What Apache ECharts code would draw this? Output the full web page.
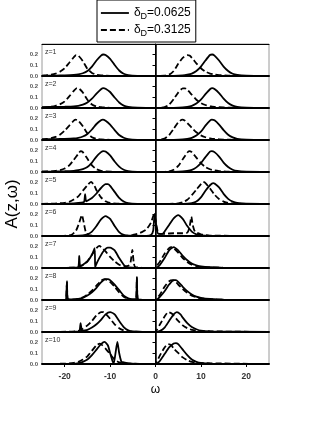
<!DOCTYPE html>
<html><head><meta charset="utf-8">
<script src="https://cdn.jsdelivr.net/npm/echarts@6/dist/echarts.min.js"></script>
<style>html,body{margin:0;padding:0;background:#fff}#c{width:316px;height:427px}</style>
</head><body><div id="c"></div>
<script>
const seriesNames = ['δD=0.0625', 'δD=0.3125'];
const legendLabels = ['{t|δ}{s|D}{t|=0.0625}', '{t|δ}{s|D}{t|=0.3125}'];
const zLabels = ['z=1','z=2','z=3','z=4','z=5','z=6','z=7','z=8','z=9','z=10'];
const xTicks = [-20, -10, 0, 10, 20];
const yTicks = [0.0, 0.1, 0.2];

const solid1 = [[-25,0.002],[-22,0.004],[-20,0.006],[-18,0.01],[-17,0.015],[-16,0.025],[-15,0.045],[-14,0.085],[-13,0.14],[-12,0.185],[-11.5,0.195],[-11,0.19],[-10,0.155],[-9,0.1],[-8,0.05],[-7,0.02],[-6,0.008],[-4,0.002],[0,0],[4,0.002],[6,0.006],[7,0.012],[8,0.022],[9,0.045],[10,0.085],[11,0.14],[12,0.19],[12.5,0.195],[13,0.185],[14,0.14],[15,0.085],[16,0.045],[17,0.02],[18,0.01],[20,0.004],[25,0.001]];
const dashed1 = [[-25,0.004],[-24,0.008],[-23,0.013],[-22,0.022],[-21,0.04],[-20,0.07],[-19,0.12],[-18,0.17],[-17.5,0.19],[-17,0.185],[-16,0.135],[-15,0.065],[-14,0.028],[-13,0.012],[-12,0.006],[-10,0.002],[0,0],[2,0.003],[3,0.012],[4,0.045],[5,0.11],[6,0.165],[7,0.19],[7.5,0.185],[8,0.165],[9,0.115],[10,0.07],[11,0.04],[12,0.022],[13,0.013],[14,0.008],[16,0.004],[20,0.001],[25,0]];
const solid2 = [[-25,0.008],[-22,0.01],[-20,0.012],[-18,0.015],[-17,0.02],[-16,0.03],[-15,0.05],[-14,0.085],[-13,0.13],[-12,0.17],[-11.5,0.18],[-11,0.175],[-10,0.145],[-9,0.095],[-8,0.05],[-7,0.022],[-6,0.01],[-4,0.003],[0,0],[4,0.002],[6,0.005],[7,0.01],[8,0.02],[9,0.04],[10,0.075],[11,0.125],[12,0.17],[12.5,0.18],[13,0.172],[14,0.135],[15,0.085],[16,0.045],[17,0.022],[18,0.01],[20,0.004],[25,0.001]];
const dashed2 = [[-25,0.004],[-24,0.007],[-23,0.012],[-22,0.02],[-21,0.035],[-20,0.06],[-19,0.105],[-18,0.155],[-17.3,0.18],[-16.8,0.175],[-16,0.14],[-15,0.075],[-14,0.032],[-13,0.014],[-12,0.007],[-10,0.002],[0,0],[1,0.002],[2,0.008],[3,0.03],[4,0.08],[5,0.14],[6,0.178],[6.5,0.178],[7,0.165],[8,0.12],[9,0.075],[10,0.045],[11,0.027],[12,0.016],[13,0.01],[15,0.005],[18,0.002],[25,0]];
const solid3 = [[-25,0.006],[-22,0.008],[-20,0.01],[-18,0.014],[-17,0.02],[-16,0.032],[-15,0.055],[-14,0.095],[-13,0.145],[-12,0.18],[-11.6,0.185],[-11,0.175],[-10,0.14],[-9,0.09],[-8,0.045],[-7,0.02],[-6,0.008],[-4,0.002],[0,0],[4,0.002],[6,0.005],[7,0.01],[8,0.02],[9,0.04],[10,0.075],[11,0.13],[12,0.175],[12.4,0.185],[13,0.178],[14,0.14],[15,0.09],[16,0.048],[17,0.024],[18,0.011],[20,0.004],[25,0.001]];
const dashed3 = [[-25,0.005],[-24,0.009],[-23,0.016],[-22,0.028],[-21,0.05],[-20,0.085],[-19,0.13],[-18,0.175],[-17.6,0.185],[-17,0.175],[-16,0.125],[-15,0.06],[-14,0.025],[-13,0.011],[-12,0.005],[-10,0.002],[0,0],[1,0.003],[2,0.012],[3,0.045],[4,0.1],[5,0.16],[5.9,0.185],[6.5,0.175],[7,0.155],[8,0.11],[9,0.07],[10,0.042],[11,0.025],[12,0.015],[13,0.009],[15,0.004],[18,0.001],[25,0]];
const solid4 = [[-25,0.003],[-22,0.005],[-20,0.007],[-18,0.011],[-17,0.016],[-16,0.026],[-15,0.045],[-14,0.085],[-13,0.14],[-12,0.18],[-11.5,0.19],[-11,0.185],[-10,0.15],[-9,0.095],[-8,0.048],[-7,0.02],[-6,0.008],[-4,0.002],[0,0],[4,0.002],[6,0.005],[7,0.01],[8,0.02],[9,0.042],[10,0.08],[11,0.135],[12,0.185],[12.4,0.19],[13,0.18],[14,0.14],[15,0.085],[16,0.045],[17,0.02],[18,0.009],[20,0.003],[25,0.001]];
const dashed4 = [[-25,0.003],[-23,0.006],[-22,0.01],[-21,0.018],[-20,0.032],[-19,0.06],[-18,0.11],[-17,0.165],[-16.5,0.19],[-16,0.18],[-15,0.12],[-14,0.06],[-13,0.025],[-12,0.01],[-11,0.005],[-9,0.002],[0,0],[2,0.002],[3,0.006],[4,0.02],[5,0.055],[6,0.115],[7,0.175],[7.4,0.19],[8,0.18],[9,0.13],[10,0.08],[11,0.045],[12,0.025],[13,0.014],[14,0.008],[16,0.003],[20,0.001],[25,0]];
const solid5 = [[-25,0.001],[-20,0.003],[-18,0.006],[-17,0.009],[-16,0.014],[-15.7,0.02],[-15.5,0.09],[-15.3,0.025],[-15,0.03],[-14,0.055],[-13,0.095],[-12,0.145],[-11,0.18],[-10.5,0.18],[-10,0.165],[-9,0.11],[-8,0.055],[-7,0.022],[-6,0.008],[-4,0.002],[0,0],[5,0.001],[7,0.003],[8,0.007],[9,0.022],[10,0.06],[11,0.12],[12,0.17],[12.7,0.19],[13,0.185],[14,0.15],[15,0.092],[16,0.047],[17,0.021],[18,0.009],[20,0.003],[25,0.001]];
const dashed5 = [[-25,0.002],[-22,0.005],[-20,0.01],[-19,0.02],[-18,0.04],[-17,0.07],[-16,0.12],[-15,0.17],[-14.2,0.2],[-13.5,0.17],[-13,0.125],[-12,0.06],[-11,0.025],[-10,0.01],[-8,0.003],[0,0],[3,0.001],[5,0.005],[6,0.015],[7,0.038],[8,0.08],[9,0.13],[10,0.18],[10.5,0.2],[11,0.19],[12,0.14],[13,0.085],[14,0.045],[15,0.022],[16,0.009],[18,0.003],[25,0]];
const solid6 = [[-25,0],[-18,0.002],[-16,0.006],[-15,0.015],[-14,0.04],[-13,0.09],[-12,0.15],[-11,0.18],[-10,0.155],[-9,0.09],[-8,0.035],[-7,0.01],[-6,0.003],[-2,0.002],[-1,0.01],[-0.5,0.05],[-0.2,0.2],[0.2,0.08],[0.6,0.02],[1.5,0.02],[2,0.04],[3,0.1],[4,0.16],[5,0.19],[6,0.155],[7,0.09],[8,0.04],[9,0.015],[10,0.006],[12,0.002],[25,0]];
const dashed6 = [[-25,0],[-20,0.003],[-18.5,0.01],[-17.5,0.05],[-16.8,0.12],[-16.2,0.19],[-15.8,0.12],[-15.3,0.03],[-14.5,0.005],[-10,0],[-6,0.003],[-5,0.01],[-4,0.02],[-3,0.035],[-2,0.06],[-1,0.12],[-0.3,0.2],[0,0.14],[0.5,0.04],[1,0.02],[2,0.02],[4,0.025],[6,0.025],[7,0.03],[7.5,0.08],[7.9,0.175],[8.2,0.1],[8.7,0.04],[10,0.015],[12,0.004],[25,0]];
const solid7 = [[-25,0],[-18,0.003],[-17,0.01],[-16.8,0.11],[-16.6,0.02],[-16,0.03],[-15,0.06],[-14,0.12],[-13.4,0.18],[-13.3,0.005],[-13.2,0.02],[-12.5,0.08],[-11.5,0.15],[-10.5,0.185],[-10,0.185],[-9,0.16],[-8,0.09],[-7,0.03],[-6.5,0.01],[-5,0.003],[0,0],[0.5,0.01],[1,0.03],[2,0.09],[3,0.16],[4,0.19],[5,0.16],[6,0.11],[7,0.07],[8,0.04],[9,0.025],[10,0.015],[12,0.007],[15,0.002],[25,0]];
const dashed7 = [[-25,0],[-18,0.003],[-17,0.01],[-16,0.025],[-15,0.06],[-14,0.12],[-13,0.18],[-12.4,0.2],[-12,0.19],[-11,0.15],[-10,0.1],[-9,0.06],[-8,0.03],[-7,0.015],[-6,0.02],[-5.5,0.05],[-5.1,0.165],[-4.8,0.05],[-4.5,0.01],[-3,0.002],[0,0],[0.3,0.02],[1,0.06],[2,0.13],[3,0.18],[3.5,0.19],[4,0.18],[5,0.14],[6,0.09],[7,0.055],[8,0.03],[9,0.018],[10,0.01],[12,0.005],[15,0.002],[25,0]];
const solid8 = [[-25,0],[-20,0.002],[-19.7,0.005],[-19.5,0.17],[-19.3,0.005],[-18,0.005],[-17,0.01],[-16,0.02],[-15,0.04],[-14,0.07],[-13,0.11],[-12,0.16],[-11,0.19],[-10.5,0.19],[-10,0.18],[-9,0.14],[-8,0.09],[-7,0.04],[-6,0.015],[-5,0.005],[-4.3,0.005],[-4.1,0.21],[-3.9,0.005],[-3,0.002],[0,0],[0.5,0.01],[1,0.03],[2,0.08],[3,0.14],[4,0.18],[4.5,0.18],[5,0.165],[6,0.12],[7,0.08],[8,0.05],[9,0.03],[10,0.02],[12,0.01],[15,0.003],[25,0]];
const dashed8 = [[-25,0],[-20,0.002],[-19.7,0.005],[-19.5,0.16],[-19.3,0.005],[-18,0.006],[-17,0.012],[-16,0.025],[-15,0.05],[-14,0.085],[-13,0.13],[-12,0.175],[-11.3,0.19],[-10.5,0.18],[-10,0.165],[-9,0.12],[-8,0.07],[-7,0.03],[-6,0.012],[-5,0.005],[-4.3,0.005],[-4.1,0.2],[-3.9,0.005],[-3,0.002],[0,0],[0.3,0.015],[1,0.05],[2,0.12],[3,0.17],[3.8,0.18],[4.5,0.165],[5,0.14],[6,0.1],[7,0.065],[8,0.04],[9,0.025],[10,0.015],[12,0.007],[15,0.002],[25,0]];
const solid9 = [[-25,0],[-18,0.002],[-16.8,0.005],[-16.5,0.08],[-16.2,0.005],[-16,0.01],[-15,0.02],[-14,0.04],[-13,0.07],[-12,0.11],[-11,0.16],[-10,0.18],[-9,0.16],[-8,0.1],[-7,0.045],[-6,0.015],[-5,0.005],[0,0],[1,0.01],[2,0.04],[3,0.1],[4,0.16],[4.7,0.18],[5.5,0.16],[6,0.13],[7,0.08],[8,0.045],[9,0.025],[10,0.012],[12,0.005],[25,0]];
const dashed9 = [[-25,0],[-19,0.003],[-17,0.01],[-16,0.03],[-15,0.06],[-14,0.1],[-13,0.15],[-12,0.18],[-11.5,0.18],[-11,0.165],[-10,0.12],[-9,0.07],[-8,0.035],[-7,0.015],[-6,0.005],[0,0],[0.3,0.02],[1,0.07],[2,0.14],[2.8,0.18],[3.5,0.17],[4,0.15],[5,0.1],[6,0.06],[7,0.035],[8,0.02],[10,0.008],[25,0]];
const solid10 = [[-25,0],[-18,0.003],[-17,0.008],[-16,0.02],[-15,0.04],[-14,0.08],[-13,0.13],[-12,0.18],[-11.2,0.2],[-10.5,0.17],[-10,0.1],[-9.5,0.03],[-9.2,0.005],[-8.8,0.1],[-8.4,0.2],[-8,0.1],[-7.5,0.02],[-7,0.015],[-6,0.005],[-4,0.001],[0,0],[0.5,0.01],[1,0.03],[2,0.09],[3,0.15],[4,0.185],[4.5,0.19],[5,0.18],[6,0.13],[7,0.08],[8,0.04],[9,0.02],[10,0.01],[12,0.004],[25,0]];
const dashed10 = [[-25,0],[-20,0.003],[-18,0.01],[-17,0.02],[-16,0.04],[-15,0.07],[-14,0.12],[-13,0.17],[-12.3,0.185],[-12,0.18],[-11,0.14],[-10,0.09],[-9,0.04],[-8,0.015],[-7,0.005],[0,0],[0.3,0.02],[1,0.08],[2,0.15],[2.8,0.18],[3.5,0.17],[4,0.14],[5,0.1],[6,0.06],[7,0.035],[8,0.02],[10,0.008],[25,0]];

const solidData = [solid1, solid2, solid3, solid4, solid5, solid6, solid7, solid8, solid9, solid10];
const dashedData = [dashed1, dashed2, dashed3, dashed4, dashed5, dashed6, dashed7, dashed8, dashed9, dashed10];

const FONT = 'Liberation Sans';
const N = 10, TOP0 = 44, PH = 32, LEFT = 42, W = 227;

const grids = [], xAxes = [], yAxes = [], series = [], titles = [];
for (let i = 0; i < N; i++) {
  grids.push({left: LEFT, width: W, top: TOP0 + PH * i, height: PH, show: true, borderColor: '#9a9a9a', borderWidth: 1, backgroundColor: 'transparent'});
  const last = i === N - 1;
  xAxes.push({
    type: 'value', gridIndex: i, min: -25, max: 25, splitNumber: 5,
    axisLine: {show: true, onZero: false, lineStyle: {color: '#000', width: 2}},
    axisTick: {show: last, length: 3, lineStyle: {color: '#000'}},
    axisLabel: {show: last, showMinLabel: false, showMaxLabel: false, margin: 8, fontSize: 8.5, fontWeight: 'bold', color: '#333', fontFamily: FONT,
      formatter: v => xTicks.includes(v) ? String(v) : ''},
    splitLine: {show: false},
    name: last ? 'ω' : '', nameLocation: 'middle', nameGap: 20,
    nameTextStyle: {fontSize: 12, color: '#000', fontFamily: FONT}
  });
  yAxes.push({
    type: 'value', gridIndex: i, min: 0, max: 0.29, interval: 0.1,
    axisLine: {show: true, lineStyle: {color: '#000', width: 1}},
    axisTick: {show: true, length: 3, lineStyle: {color: '#000'}},
    axisLabel: {fontSize: 6, color: '#555', margin: 4, fontFamily: FONT, fontWeight: 'bold',
      formatter: v => yTicks.some(t => Math.abs(t - v) < 1e-6) ? v.toFixed(1) : ''},
    splitLine: {show: false}
  });
  series.push({
    type: 'line', name: seriesNames[0], xAxisIndex: i, yAxisIndex: i, data: solidData[i],
    symbol: 'none', smooth: 0.2, animation: false,
    lineStyle: {color: '#000', width: 1.8, type: 'solid'}, itemStyle: {color: '#000'},
    markLine: {silent: true, symbol: ['none', 'none'], animation: false, label: {show: false},
      lineStyle: {color: '#000', width: 1.5, type: 'solid'}, data: [{xAxis: 0}]}
  });
  series.push({
    type: 'line', name: seriesNames[1], xAxisIndex: i, yAxisIndex: i, data: dashedData[i],
    symbol: 'none', smooth: 0.2, animation: false,
    lineStyle: {color: '#000', width: 1.8, type: [6, 3]}, itemStyle: {color: '#000'}
  });
  titles.push({text: zLabels[i], left: 45, top: TOP0 + PH * i + 5, padding: 0,
    textStyle: {fontSize: 7, fontWeight: 'normal', color: '#333', fontFamily: FONT}});
}
// top border of the stack
xAxes.push({type: 'value', gridIndex: 0, position: 'top', min: -25, max: 25,
  axisLine: {show: true, onZero: false, lineStyle: {color: '#000', width: 1}},
  axisTick: {show: false}, axisLabel: {show: false}, splitLine: {show: false}});

const chart = echarts.init(document.getElementById('c'), null, {renderer: 'canvas'});
chart.setOption({
  backgroundColor: '#fff',
  animation: false,
  title: titles,
  grid: grids, xAxis: xAxes, yAxis: yAxes, series: series,
  legend: {
    data: seriesNames, left: 97, top: 0, orient: 'vertical',
    itemWidth: 28, itemHeight: 12, itemGap: 2, padding: [6, 5, 4, 3],
    borderColor: '#000', borderWidth: 1, backgroundColor: '#fff',
    itemStyle: {opacity: 0},
    lineStyle: {width: 1.8},
    formatter: n => legendLabels[seriesNames.indexOf(n)],
    textStyle: {fontFamily: FONT, color: '#000',
      rich: {t: {fontSize: 12, lineHeight: 16, fontFamily: FONT, color: '#000'},
             s: {fontSize: 9, lineHeight: 16, fontFamily: FONT, color: '#000', verticalAlign: 'bottom', padding: [6, 0, 0, 0]}}}
  },
  graphic: [{type: 'text', x: 12, y: 204, rotation: Math.PI / 2,
    style: {text: 'A(z,ω)', fontSize: 17, fontFamily: FONT, fill: '#000', align: 'center', verticalAlign: 'middle'}}]
});
</script></body></html>
